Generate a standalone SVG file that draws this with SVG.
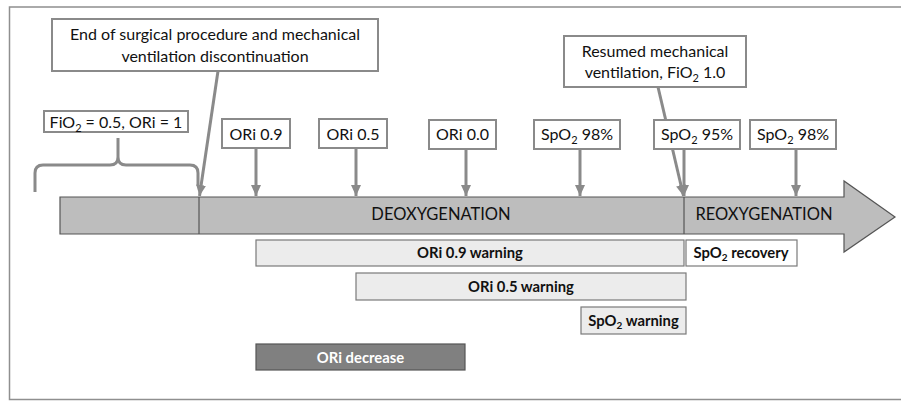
<svg xmlns="http://www.w3.org/2000/svg" width="901" height="401" viewBox="0 0 901 401">
<defs>
<style>
text{font-family:"Lato","Liberation Sans",sans-serif;fill:#111}
.lbl{font-size:16px;text-anchor:middle}
.big{font-size:16.5px;text-anchor:middle}
.b{font-size:14.8px;font-weight:bold;text-anchor:middle}
.box{fill:#fff;stroke:#8a8a8a;stroke-width:2}
.bar{fill:#bdbdbd;stroke:#555;stroke-width:1.2}
.warn{fill:#ececec;stroke:#7a7a7a;stroke-width:1.2}
.conn{stroke:#8a8a8a;stroke-width:3;fill:none}
</style>
<marker id="ah" markerUnits="userSpaceOnUse" markerWidth="12" markerHeight="12" viewBox="0 0 12 12" refX="11" refY="6" orient="auto">
<path d="M0,1 L11,6 L0,11 Z" fill="#8a8a8a"/>
</marker>
</defs>
<rect x="9.5" y="7" width="900" height="392.5" fill="#fff" stroke="#8f8f8f" stroke-width="1.5"/>

<g id="timeline">
<path class="bar" d="M60,197 H844 V181 L895,217 L844,252 V234 H60 Z"/>
<line x1="199" y1="197" x2="199" y2="234" stroke="#555" stroke-width="1.2"/>
<line x1="684" y1="197" x2="684" y2="234" stroke="#555" stroke-width="1.2"/>
<text class="big" x="441" y="220">DEOXYGENATION</text>
<text class="big" x="764" y="220">REOXYGENATION</text>
</g>

<g id="connectors">
<path class="conn" d="M35,192 L35,173 Q35,165 43,165 L110,165 Q118,165 118,157 L118,138 M118,157 Q118,165 126,165 L190,165 Q198,165 198,173 L198,186"/>
<line class="conn" x1="218" y1="71" x2="199.5" y2="196" marker-end="url(#ah)"/>
<line class="conn" x1="658" y1="87" x2="683.5" y2="196" marker-end="url(#ah)"/>
<line class="conn" x1="256" y1="148" x2="256" y2="196" marker-end="url(#ah)"/>
<line class="conn" x1="356" y1="148" x2="356" y2="196" marker-end="url(#ah)"/>
<line class="conn" x1="466" y1="149" x2="466" y2="196" marker-end="url(#ah)"/>
<line class="conn" x1="580" y1="149" x2="580" y2="196" marker-end="url(#ah)"/>
<line class="conn" x1="684" y1="149" x2="684" y2="196" marker-end="url(#ah)"/>
<line class="conn" x1="796" y1="149" x2="796" y2="196" marker-end="url(#ah)"/>
</g>

<g id="end-surgery">
<rect class="box" x="52" y="19" width="326" height="52"/>
<text class="lbl" x="215" y="40">End of surgical procedure and mechanical</text>
<text class="lbl" x="215" y="62">ventilation discontinuation</text>
</g>
<g id="fio2-baseline">
<rect class="box" x="44" y="111" width="144" height="21"/>
<text class="lbl" x="116" y="128">FiO<tspan font-size="11" dy="4">2</tspan><tspan dy="-4"> = 0.5, ORi = 1</tspan></text>
</g>
<g id="resumed">
<rect class="box" x="564" y="36" width="182" height="51"/>
<text class="lbl" x="655" y="57">Resumed mechanical</text>
<text class="lbl" x="655" y="78">ventilation, FiO<tspan font-size="11" dy="4">2</tspan><tspan dy="-4"> 1.0</tspan></text>
</g>
<g id="ori09">
<rect class="box" x="222" y="119" width="68" height="29"/>
<text class="lbl" x="256" y="140">ORi 0.9</text>
</g>
<g id="ori05">
<rect class="box" x="319" y="119" width="68" height="29"/>
<text class="lbl" x="353" y="140">ORi 0.5</text>
</g>
<g id="ori00">
<rect class="box" x="429" y="120" width="67" height="29"/>
<text class="lbl" x="462.5" y="140">ORi 0.0</text>
</g>
<g id="spo2-98a">
<rect class="box" x="534" y="120" width="86" height="29"/>
<text class="lbl" x="577" y="140">SpO<tspan font-size="11" dy="4">2</tspan><tspan dy="-4"> 98%</tspan></text>
</g>
<g id="spo2-95">
<rect class="box" x="654" y="120" width="86" height="29"/>
<text class="lbl" x="697" y="140">SpO<tspan font-size="11" dy="4">2</tspan><tspan dy="-4"> 95%</tspan></text>
</g>
<g id="spo2-98b">
<rect class="box" x="750" y="120" width="86" height="29"/>
<text class="lbl" x="793" y="140">SpO<tspan font-size="11" dy="4">2</tspan><tspan dy="-4"> 98%</tspan></text>
</g>

<g id="ori09-warning">
<rect class="warn" x="256" y="240" width="428" height="26"/>
<text class="b" x="470" y="258">ORi 0.9 warning</text>
</g>
<g id="spo2-recovery">
<rect x="686" y="240" width="111" height="26" fill="#fff" stroke="#7a7a7a" stroke-width="1.2"/>
<text class="b" x="741" y="258">SpO<tspan font-size="10" dy="3">2</tspan><tspan dy="-3"> recovery</tspan></text>
</g>
<g id="ori05-warning">
<rect class="warn" x="356" y="273" width="330" height="27"/>
<text class="b" x="521" y="292">ORi 0.5 warning</text>
</g>
<g id="spo2-warning">
<rect class="warn" x="581" y="307" width="105" height="27"/>
<text class="b" x="633.5" y="326">SpO<tspan font-size="10" dy="3">2</tspan><tspan dy="-3"> warning</tspan></text>
</g>
<g id="ori-decrease">
<rect x="256" y="344" width="209" height="26" fill="#808080" stroke="#555" stroke-width="1.2"/>
<text class="b" x="360.5" y="363" style="fill:#fff">ORi decrease</text>
</g>
</svg>
